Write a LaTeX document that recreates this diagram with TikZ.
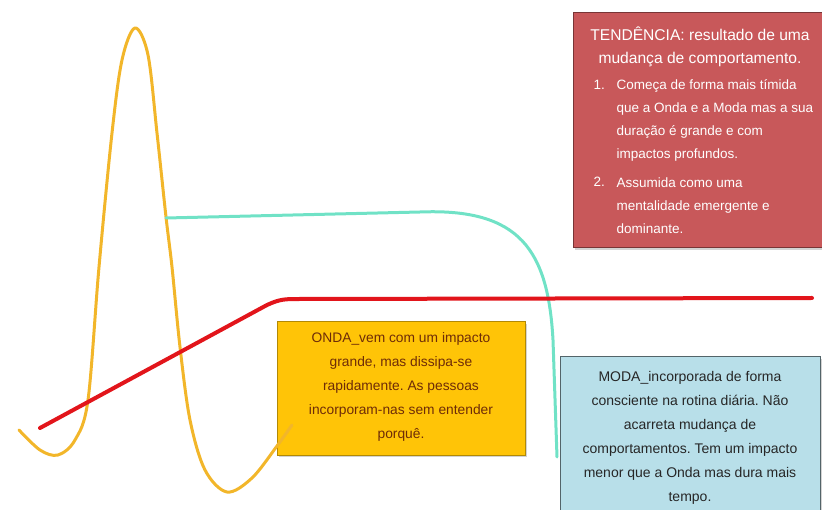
\documentclass[tikz,border=0pt]{standalone}
\usepackage{fontspec}
\setmainfont{Liberation Sans}
\usetikzlibrary{shadows}
\frenchspacing

\definecolor{ondacor}{HTML}{F2B62A}
\definecolor{modacor}{HTML}{70E2C6}
\definecolor{tendcor}{HTML}{E2151B}
\definecolor{ondafill}{HTML}{FFC407}
\definecolor{modafill}{HTML}{B8DFE9}
\definecolor{tendfill}{HTML}{C8585A}
\definecolor{ondatexto}{HTML}{6E2C08}

\tikzset{
  caixa/.style={draw, line width=1pt, drop shadow={shadow xshift=2pt, shadow yshift=-2pt, opacity=.35}, inner sep=0pt},
  curva/.style={line width=3pt, line cap=round, line join=round},
}

\begin{document}
\begin{tikzpicture}[x=1pt,y=-1pt]
\useasboundingbox (0,0) rectangle (822,510);
%-------->boxes<--------------
\node[caixa, fill=ondafill, draw=ondafill!70!black, minimum width=248pt, minimum height=133pt] (onda) at (401,388.5) {};
\node[caixa, fill=modafill, draw=modafill!45!black, minimum width=260pt, minimum height=156pt] (moda) at (690,435) {};
\node[caixa, fill=tendfill, draw=tendfill!60!black, minimum width=249pt, minimum height=235pt] (tend) at (697.5,130.5) {};
%-------------> curves <-----------------
% onda
\draw[curva, ondacor] plot[smooth, tension=0.55] coordinates {(19,430) (40,450) (58,455) (75,440) (88,400) (99,267) (112,133) (122,60) (135,28) (148,55) (157,133) (166,217) (172,267) (180,347) (190,420) (205,470) (227,492) (252,478) (277,446) (292,425)};
% moda
\draw[curva, modacor] (166,218) -- (420,212) .. controls (520,208) and (548,250) .. (553,340) -- (557,457);
% tendencia
\draw[curva, tendcor, line width=4pt] (40,428) -- (267,305) .. controls (280,299) and (285,299) .. (300,299) -- (812,298);
%-------------> texts <-----------------
\node[align=center, text=ondatexto, font=\fontsize{13.8}{24}\selectfont] (ondatxt) at (401,387) {ONDA\_vem com um impacto\\ grande, mas dissipa-se\\ rapidamente. As pessoas\\ incorporam-nas sem entender\\ porquê.};
\node[align=center, text=black!85, font=\fontsize{14}{24}\selectfont] (modatxt) at (690,438) {MODA\_incorporada de forma\\ consciente na rotina diária. Não\\ acarreta mudança de\\ comportamentos. Tem um impacto\\ menor que a Onda mas dura mais\\ tempo.};
\node[align=center, text=white, font=\fontsize{15.6}{23}\selectfont] (tendtit) at (700,47) {TENDÊNCIA: resultado de uma\\ mudança de comportamento.};
\node[anchor=west, text=white, font=\fontsize{13.5}{23}\selectfont] (num1) at (590,85) {1.};
\node[anchor=west, align=left, text=white, font=\fontsize{13.5}{23}\selectfont] (item1) at (613,120) {Começa de forma mais tímida\\ que a Onda e a Moda mas a sua\\ duração é grande e com\\ impactos profundos.};
\node[anchor=west, text=white, font=\fontsize{13.5}{23}\selectfont] (num2) at (590,182) {2.};
\node[anchor=west, align=left, text=white, font=\fontsize{13.5}{23}\selectfont] (item2) at (613,206) {Assumida como uma\\ mentalidade emergente e\\ dominante.};
\end{tikzpicture}
\end{document}
